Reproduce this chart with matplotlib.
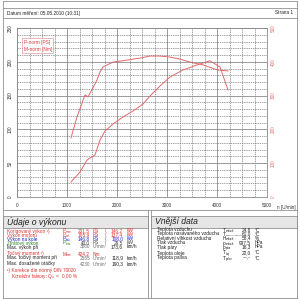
import matplotlib
matplotlib.use("Agg")
import matplotlib.pyplot as plt
from matplotlib.lines import Line2D
from matplotlib.patches import Rectangle

plt.rcParams['font.family'] = ['Liberation Sans', 'DejaVu Sans']

# ---------------- data ----------------
p_rpm = [1080, 1260, 1400, 1460, 1560, 1660, 1760, 1920, 2120, 2320, 2520, 2660,
         2860, 3060, 3320, 3600, 3860, 4060, 4220]
p_ps = [22.2, 37.0, 54.7, 57.7, 62.1, 84.3, 97.6, 108.0, 118.3, 127.2, 137.6, 149.4,
        164.2, 177.5, 187.9, 195.3, 201.5, 192.3, 158.3]

m_rpm = [1080, 1200, 1360, 1420, 1600, 1660, 1720, 1920, 2200, 2460, 2660, 2860,
         3060, 3260, 3460, 3720, 4000, 4220]
m_nm = [175, 237, 302, 296, 346, 370, 385, 399, 405, 411, 417, 417,
        414, 408, 399, 391, 376, 373]

x_ticks = [0, 1000, 2000, 3000, 4000, 5000]
left_ticks = [0, 50, 100, 150, 200, 250]
right_ticks = [0, 100, 200, 300, 400, 500]

perf_labels = ["Korigovaný výkon ¹)", "Výkon motoru", "Výkon na kole", "Ztrátový výkon"]
perf_syms = ["norm", "mot", "kolo", "ztrát"]
perf_ps = ["201,5", "185,9", "146,8", "40,0"]
perf_kw = ["146,2", "137,4", "108,0", "29,5"]
perf_colors = ["#e03030", "#e03030", "#2020d0", "#208020"]

ext_labels = ["Teplota vzduchu", "Teplota nasávaného vzduchu", "Relativní vlhkost vzduchu",
              "Tlak vzduchu", "Tlak páry", "Teplota oleje", "Teplota paliva"]
ext_syms = [("T", "vzduch"), ("T", "nasávaný vzduch"), ("H", "vzduch"), ("p", "vzduch"),
            ("p", "pára"), ("T", "olej"), ("T", "palivo")]
ext_vals = ["24,8", "61,0", "58,4", "997,5", "16,3", "22,0", "---,-"]
ext_units = ["°C", "°C", "%", "hPa", "hPa", "°C", "°C"]

# ---------------- figure ----------------
W = H = 300
fig = plt.figure(figsize=(3, 3), dpi=100)
fig.patch.set_facecolor("white")

FS = 3.4


def fx(x):
    return x / W


def fy(y):
    return 1 - y / H


def hline(x0, x1, y, c="#909090", lw=0.6):
    fig.add_artist(Line2D([fx(x0), fx(x1)], [fy(y), fy(y)], color=c, lw=lw,
                          transform=fig.transFigure))


def vline(x, y0, y1, c="#909090", lw=0.6):
    fig.add_artist(Line2D([fx(x), fx(x)], [fy(y0), fy(y1)], color=c, lw=lw,
                          transform=fig.transFigure))


def txt(x, y, s, size=FS, color="#202020", ha="left", **kw):
    fig.text(fx(x), fy(y), s, fontsize=size, color=color, ha=ha, va="center", **kw)


def sym(x, y, main, sub, color="#202020", subsize=1.9):
    txt(x, y, main, size=FS, color=color)
    txt(x + 2.8, y + 1.2, sub, size=subsize, color=color)


# outer frames
hline(3, 297, 1)
hline(3, 297, 8)
hline(3, 297, 18)
hline(3, 297, 210)
vline(3, 1, 298)
vline(297, 1, 298)
hline(3, 297, 298)
txt(7, 13, "Datum měření: 05.05.2010 (10:31)", size=3.4)
txt(293, 13, "Strana 1", size=3.4, ha="right")

# ---------------- chart ----------------
ax = fig.add_axes([fx(17), fy(197), fx(267) - fx(17), fy(28) - fy(197)])
ax.set_xlim(0, 5000)
ax.set_ylim(0, 250)
ax.set_xticks(x_ticks)
ax.set_xticks(range(0, 5001, 250), minor=True)
ax.set_yticks(left_ticks)
ax.set_yticks(range(0, 251, 10), minor=True)
ax.grid(which="major", color="#8a8a8a", lw=0.6, ls="-")
ax.grid(which="minor", color="#606060", lw=0.4, ls=(0, (2.5, 1.5)))
ax.set_axisbelow(True)
for s in ax.spines.values():
    s.set_color("#8a8a8a")
    s.set_linewidth(0.6)
ax.tick_params(which="both", length=0)
ax.tick_params(axis="x", labelsize=3.3, labelcolor="#303030", pad=4)
ax.tick_params(axis="y", labelsize=3.3, labelcolor="#303030", pad=3, labelrotation=90)
for lab in ax.get_yticklabels():
    lab.set_va("center")

curve_color = "#e06a6a"
l1, = ax.plot(p_rpm, p_ps, color=curve_color, lw=0.7)

ax2 = ax.twinx()
ax2.set_ylim(0, 500)
ax2.set_yticks(right_ticks)
ax2.tick_params(which="both", length=0)
ax2.tick_params(axis="y", labelsize=3.3, labelcolor="#e07070", pad=3, labelrotation=90)
for lab in ax2.get_yticklabels():
    lab.set_va("center")
for s in ax2.spines.values():
    s.set_visible(False)
l2, = ax2.plot(m_rpm, m_nm, color=curve_color, lw=0.7)

leg = ax.legend([l1, l2], ["P-norm [PS]", "M-norm [Nm]"], loc="upper left",
                bbox_to_anchor=(0.01, 0.955), fontsize=3.4, handlelength=0,
                handletextpad=0, frameon=True, fancybox=False, borderpad=0.35,
                labelspacing=0.4, labelcolor="#e04040", edgecolor="#e08080")
leg.get_frame().set_linewidth(0.5)
for h in leg.legend_handles:
    h.set_visible(False)

txt(277, 207, "n [U/min]", size=3.3, color="#303030")

# ---------------- bottom boxes ----------------
for x0, x1, title in [(3, 148, "Údaje o výkonu"), (151, 297, "Vnější data")]:
    fig.add_artist(Rectangle((fx(x0), fy(228)), fx(x1) - fx(x0), fy(216) - fy(228),
                             transform=fig.transFigure, facecolor="#e6e6e6",
                             edgecolor="#909090", lw=0.6))
    txt(x0 + 4, 222, title, size=6.2, color="#202020", style="italic")
vline(148, 210, 298)
vline(151, 210, 298)

# left box rows
rows_y = [231, 235, 239, 243]
for i in range(4):
    c = perf_colors[i]
    txt(7, rows_y[i], perf_labels[i], color=c)
    sym(63, rows_y[i], "P", perf_syms[i], color=c)
    vc = c if i < 3 else "#404040"
    txt(90, rows_y[i], perf_ps[i], color=vc, ha="right")
    txt(93, rows_y[i], "PS", color=vc)
    txt(105, rows_y[i], "/", color=vc)
    txt(123, rows_y[i], perf_kw[i], color=vc, ha="right")
    txt(127, rows_y[i], "kW", color=vc)

grey = "#707070"
txt(7, 247, "Max. výkon při")
txt(90, 247, "3800", color=grey, ha="right")
txt(93, 247, "U/min/", color=grey)
txt(123, 247, "173,6", ha="right")
txt(127, 247, "km/h")

txt(7, 254, "Točivý moment ¹)", color="#e03030")
sym(63, 254, "M", "norm", color="#e03030")
txt(90, 254, "424,2", color="#e03030", ha="right")
txt(93, 254, "Nm", color="#e03030")

txt(7, 258, "Max. točivý moment při")
txt(90, 258, "2565", color=grey, ha="right")
txt(93, 258, "U/min/", color=grey)
txt(123, 258, "118,9", ha="right")
txt(127, 258, "km/h")

txt(7, 264, "Max. dosažené otáčky")
txt(90, 264, "4230", color=grey, ha="right")
txt(93, 264, "U/min/", color=grey)
txt(123, 264, "190,3", ha="right")
txt(127, 264, "km/h")

txt(7, 270.5, "¹) Korekce dle normy DIN 70020", color="#e03030")
txt(11, 276.5, r"Korekční faktory: Q$_{\mathregular{o}}$ =   0,00 %", color="#e03030")

# right box rows
ext_y = [230, 234, 238, 243, 247, 253, 258]
for i in range(7):
    y = ext_y[i]
    txt(157, y, ext_labels[i])
    m, sb = ext_syms[i]
    sym(223, y, m, sb, subsize=1.9 if len(sb) < 10 else 1.45)
    txt(251, y, ext_vals[i], ha="right")
    txt(255, y, ext_units[i])

fig.savefig("out.png", dpi=100, facecolor="white")
